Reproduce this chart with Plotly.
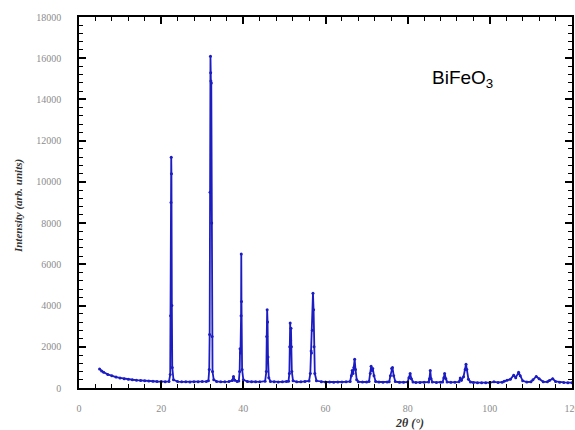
import plotly.graph_objects as go

# XRD pattern of BiFeO3 (2theta in degrees, intensity in arb. units)
two_theta = [
    5.0, 5.5, 6, 7, 8, 9, 10, 11, 12, 13, 14, 15, 16, 17, 18, 19, 20, 21,
    21.9, 22.2, 22.3, 22.4, 22.45, 22.5, 22.6, 22.7, 23.0,
    24, 25, 26, 27, 28, 29, 30, 31,
    31.5, 31.7, 31.8, 31.9, 32.0, 32.05, 32.1, 32.2, 32.3, 32.4, 32.5, 32.8,
    33.5, 34.5, 35.5, 36.5, 37.3, 37.6, 37.9, 38.5,
    38.9, 39.1, 39.2, 39.3, 39.45, 39.5, 39.55, 39.7, 40.0,
    41, 42, 43, 44,
    45.3, 45.6, 45.7, 45.8, 45.9, 46.0, 46.2, 46.6,
    47.5, 48.5, 49.5, 50.5,
    51.0, 51.2, 51.3, 51.4, 51.5, 51.6, 51.7, 51.8, 52.1,
    53, 54, 55,
    56.0, 56.3, 56.5, 56.6, 56.8, 56.95, 57.1, 57.2, 57.4, 57.8,
    59, 60, 61, 62, 63, 64, 65,
    66.0, 66.3, 66.5, 66.7, 66.9, 67.1, 67.3, 67.6, 68,
    69, 70,
    70.6, 70.9, 71.1, 71.3, 71.5, 71.8, 72.2,
    73, 74, 75,
    75.5, 75.8, 76.1, 76.3, 76.6, 77,
    78, 79,
    80.0, 80.3, 80.6, 80.9, 81.3,
    82, 83, 84,
    85.1, 85.3, 85.5, 85.7, 86,
    87, 88,
    88.5, 88.8, 89, 89.3, 89.6,
    90.5, 91.5,
    92.5, 92.8, 93.1, 93.6, 94.0, 94.2, 94.4, 94.8, 95.3,
    96, 97, 98, 99, 100, 101, 102, 103,
    103.5, 104.2, 105, 105.8, 106.3, 107, 107.4, 108, 109,
    110, 110.5, 111.3, 112, 113, 114, 114.5, 115.3, 116, 117, 118, 119, 120,
]
intensity = [
    920, 830, 760, 660, 590, 530, 490, 450, 430, 400, 380, 360, 350, 335, 325, 315, 310, 305,
    320, 650, 3500, 9000, 11200, 10400, 4000, 1000, 400,
    310, 300, 300, 295, 300, 300, 310, 320,
    350, 900, 2600, 9500, 16100, 15300, 14900, 14800, 8000, 2500, 800, 400,
    320, 300, 300, 310, 360, 560, 380, 320,
    340, 800, 1900, 1700, 3500, 6500, 4200, 900, 400,
    310, 300, 300, 300,
    330, 800, 2500, 3800, 3200, 1500, 500, 320,
    300, 295, 300, 310,
    330, 700, 2000, 3150, 2300, 2900, 2000, 800, 350,
    300, 300, 310,
    340, 700, 1800, 1700, 2800, 4600, 3800, 2000, 700, 350,
    300, 290, 290, 285, 290, 290, 300,
    320, 600, 850, 700, 1000, 1400, 900, 400, 300,
    290, 290,
    320, 700, 1050, 850, 950, 600, 320,
    290, 285, 290,
    300, 600, 950, 1000, 600, 310,
    280, 280,
    290, 500, 700, 450, 290,
    270, 270, 275,
    290, 450, 850, 450, 290,
    270, 275,
    290, 500, 700, 450, 290,
    275, 280,
    300, 480, 380, 550, 900, 1150, 900, 420, 290,
    270, 260, 260, 255, 260, 300, 270, 280,
    330, 380, 420, 620, 500, 760, 600, 350, 290,
    300, 400, 560, 450, 300, 300, 360, 450, 320, 280, 270, 260, 260,
]

x_ticks = [0, 20, 40, 60, 80, 100, 120]
y_ticks = [0, 2000, 4000, 6000, 8000, 10000, 12000, 14000, 16000, 18000]

BLUE = "rgb(28,28,195)"

fig = go.Figure()
fig.add_trace(go.Scatter(
    x=two_theta, y=intensity, mode="lines+markers",
    line=dict(color=BLUE, width=1.8),
    marker=dict(color=BLUE, size=3),
    showlegend=False,
))

tickfont = dict(family="Liberation Serif", size=10, color="#8c8c8c")
common = dict(
    showline=True, linecolor="black", linewidth=1.5, mirror="ticks",
    ticks="inside", ticklen=7, tickwidth=1.5, tickcolor="black",
    showgrid=False, zeroline=False, tickfont=tickfont, automargin=False,
    ticklabeloverflow="allow",
)
fig.update_xaxes(range=[0, 120], tickmode="array", tickvals=x_ticks,
                 ticktext=[str(v) for v in x_ticks],
                 minor=dict(dtick=4, tick0=0, ticks="inside", ticklen=4,
                            tickwidth=1, tickcolor="black", showgrid=False),
                 ticklabelstandoff=10, **common)
fig.update_yaxes(range=[0, 18000], tickmode="array", tickvals=y_ticks,
                 ticktext=[str(v) for v in y_ticks],
                 minor=dict(dtick=400, tick0=0, ticks="inside", ticklen=4,
                            tickwidth=1, tickcolor="black", showgrid=False),
                 ticklabelstandoff=14, **common)

fig.add_annotation(text="<b><i>2θ (°)</i></b>", xref="paper", yref="paper",
                   x=0.671, y=-0.094, xanchor="center", yanchor="middle", showarrow=False,
                   font=dict(family="Liberation Serif", size=12, color="#333333"))
fig.add_annotation(text="<b><i>Intensity (arb. units)</i></b>", xref="paper", yref="paper",
                   x=-0.124, y=0.49, xanchor="center", yanchor="middle",
                   showarrow=False, textangle=-90,
                   font=dict(family="Liberation Serif", size=11, color="#333333"))
fig.add_annotation(text="BiFeO<sub>3</sub>", xref="x", yref="y",
                   x=93.3, y=15000, showarrow=False,
                   font=dict(family="Liberation Sans", size=19, color="black"))

fig.update_layout(
    width=575, height=430,
    margin=dict(l=79, r=3, t=17, b=42),
    paper_bgcolor="white", plot_bgcolor="white",
)
# remove the default 8px page margin so the figure fills the window exactly
fig.write_html("out.html", config={"displayModeBar": False},
               post_script="document.body.style.margin='0';document.body.style.overflow='hidden';")
